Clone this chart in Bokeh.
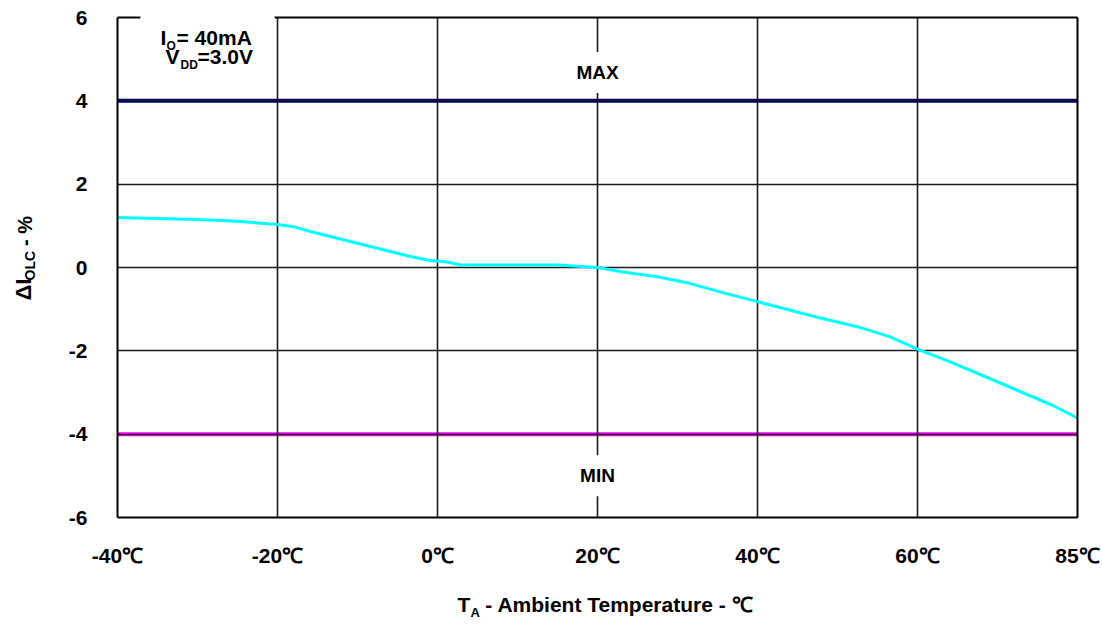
import math
import numpy as np
from bokeh.plotting import figure
from bokeh.models import Range1d, FixedTicker, Label, BoxAnnotation, LinearAxis
from bokeh.embed import file_html
from bokeh.resources import INLINE

# Temperature axis: equally spaced ticks (the last interval spans 25 °C)
tick_temps = [-40, -20, 0, 20, 40, 60, 85]
tick_labels = ["-40℃", "-20℃", "0℃", "20℃", "40℃", "60℃", "85℃"]
y_ticks = [-6, -4, -2, 0, 2, 4, 6]

# Measured change of output current vs. ambient temperature (%)
temps = [-40, -30, -25, -22.5, -20, -18, -16, -13.5, -11, -8.5, -6, -3.5, -1, 1, 3,
         15, 20, 23, 27.5, 31.5, 36, 40, 44, 48, 52.5, 56.5, 60, 65, 70, 75.5, 81, 85]
delta_iolc = [1.20, 1.15, 1.11, 1.07, 1.03, 0.98, 0.87, 0.75, 0.63, 0.51, 0.39, 0.27, 0.17, 0.14, 0.06,
              0.06, 0.00, -0.10, -0.22, -0.38, -0.62, -0.82, -1.02, -1.22, -1.42, -1.66, -1.96, -2.26,
              -2.58, -2.94, -3.30, -3.61]

limit_max = 4.0
limit_min = -4.0

W, H = 1102, 627
L, R, T, B = 117, 1077, 17, 517
NBSP = "\u00a0"

tick_pos = list(range(len(tick_temps)))
x_pos = np.interp(temps, tick_temps, tick_pos)


def sx(px):
    return (px - L) / (R - L) * (len(tick_pos) - 1)


def sy(py):
    return 6 - (py - T) / (B - T) * 12


p = figure(width=W, height=H, output_backend="svg", toolbar_location=None,
           x_range=Range1d(0, 6), y_range=Range1d(-6, 6),
           min_border_left=L, min_border_right=W - R, min_border_top=T, min_border_bottom=H - B)
p.background_fill_color = "white"
p.border_fill_color = "white"
p.outline_line_color = None

tick_font = "Liberation Sans"
p.xaxis.ticker = FixedTicker(ticks=tick_pos)
p.xaxis.major_label_overrides = {i: s for i, s in zip(tick_pos, tick_labels)}
p.yaxis.ticker = FixedTicker(ticks=y_ticks)
p.yaxis.major_label_overrides = {v: str(v) for v in y_ticks}
for ax in (p.xaxis, p.yaxis):
    ax.axis_line_color = "black"
    ax.axis_line_width = 2
    ax.major_tick_line_color = None
    ax.minor_tick_line_color = None
    ax.major_label_text_font = tick_font
    ax.major_label_text_font_style = "bold"
    ax.major_label_text_font_size = "21px"
    ax.major_label_text_color = "black"
p.xaxis.major_label_standoff = 20
p.yaxis.major_label_standoff = 24


def frame_edge(side, bounds="auto"):
    # bare axis used only to draw one edge of the plot frame
    ax = LinearAxis(ticker=FixedTicker(ticks=[]), bounds=bounds, axis_line_color="black",
                    axis_line_width=2, major_tick_line_color=None, minor_tick_line_color=None,
                    major_label_text_font_size="0px", major_label_standoff=0)
    p.add_layout(ax, side)


frame_edge("right")
frame_edge("above", bounds=(sx(274), 6))
frame_edge("above", bounds=(0, sx(140)))

for g in (p.xgrid, p.ygrid):
    g.grid_line_color = "#1a1a1a"
    g.grid_line_width = 1.6

# limit lines sit beneath the grid
p.line([0, 6], [limit_max, limit_max], line_color="#000080", line_width=4, level="image")
p.line([0, 6], [limit_min, limit_min], line_color="#ff00ff", line_width=4, level="image")

p.line(x_pos, delta_iolc, line_color="#00ffff", line_width=3)

lab_font = "Liberation Sans"


def text(x, y, s, size, side="center", **kw):
    lab = Label(x=x, y=y, text=s, text_font=lab_font, text_font_style="bold",
                text_font_size=f"{size}px", text_color="black", **kw)
    p.add_layout(lab, side)
    return lab


# conditions box
p.add_layout(BoxAnnotation(left=sx(140), right=sx(274), top=6.2, bottom=sy(84),
                           fill_color="white", fill_alpha=1, line_color=None))
text(sx(160), sy(48.5), "I", 21)
text(sx(166), sy(52.5), "O", 12)
text(sx(176), sy(48.5), "= 40mA", 21)
text(sx(165), sy(67.5), "V", 21)
text(sx(180), sy(71.5), "DD", 12)
text(sx(197), sy(67.5), "=3.0V", 21)

text(3, limit_max + 0.68, "MAX", 19, text_align="center", text_baseline="middle",
     background_fill_color="white", padding=10)
text(3, limit_min - 1.0, "MIN", 19, text_align="center", text_baseline="middle",
     background_fill_color="white", padding=10)

# x-axis title; side panels keep the text outside the clipped frame
text(sx(457), sy(615), "T", 21, side="below")
text(sx(470), sy(619), "A", 13, side="right")
text(sx(479), sy(615), NBSP + "- Ambient Temperature - ℃", 21, side="below")

# y-axis title (rotated)
ang = math.pi / 2
text(sx(35), sy(300), "ΔI", 22, side="left", angle=ang)
text(sx(37), sy(280), "OLC", 14, side="left", angle=ang)
text(sx(35), sy(251), NBSP + "-" + NBSP + "%", 20, side="left", angle=ang)

open("out.html", "w").write(file_html(p, INLINE))
